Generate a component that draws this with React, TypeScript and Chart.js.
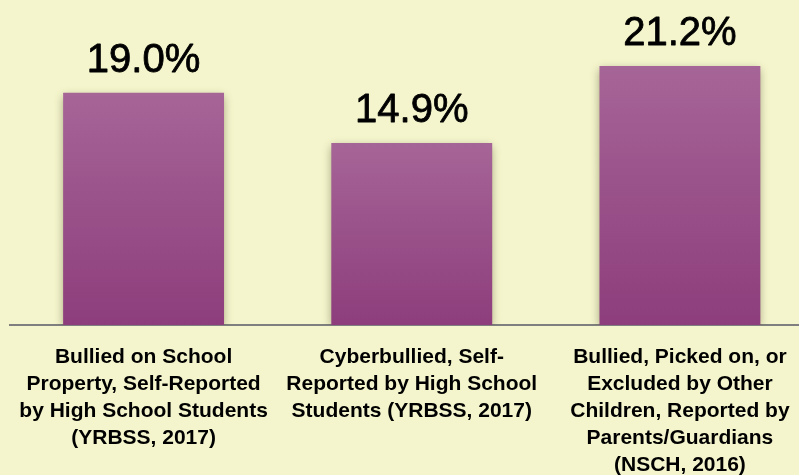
import React, { useEffect, useRef } from "react";
import { Chart, registerables } from "chart.js";

Chart.register(...registerables);

const categories: string[][] = [
  ["Bullied on School", "Property, Self-Reported", "by High School Students", "(YRBSS, 2017)"],
  ["Cyberbullied, Self-", "Reported by High School", "Students (YRBSS, 2017)"],
  ["Bullied, Picked on, or", "Excluded by Other", "Children, Reported by", "Parents/Guardians", "(NSCH, 2016)"],
];
const values: number[] = [19.0, 14.9, 21.2];
const valueLabels: string[] = ["19.0%", "14.9%", "21.2%"];

const BG = "#f4f5cc";

export default function App() {
  const ref = useRef<HTMLCanvasElement | null>(null);

  useEffect(() => {
    document.body.style.margin = "0";
    document.body.style.overflow = "hidden";
    const canvas = ref.current!;
    const shadowPlugin = {
      id: "barShadow",
      beforeDatasetsDraw(chart: any) {
        const ctx = chart.ctx;
        ctx.save();
        ctx.shadowColor = "rgba(60,60,20,0.45)";
        ctx.shadowBlur = 9;
        ctx.shadowOffsetX = 0;
        ctx.shadowOffsetY = 3;
      },
      afterDatasetsDraw(chart: any) {
        const ctx = chart.ctx;
        ctx.restore();
        const meta = chart.getDatasetMeta(0);
        ctx.save();
        ctx.fillStyle = "#000";
        ctx.strokeStyle = "#000";
        ctx.lineWidth = 0.8;
        ctx.lineJoin = "round";
        ctx.font = "40px 'Liberation Sans', Arial, sans-serif";
        ctx.textAlign = "center";
        ctx.textBaseline = "alphabetic";
        meta.data.forEach((bar: any, i: number) => {
          ctx.fillText(valueLabels[i], bar.x, bar.y - 20.5);
          ctx.strokeText(valueLabels[i], bar.x, bar.y - 20.5);
        });
        ctx.restore();
      },
    };
    const chart = new Chart(canvas, {
      type: "bar",
      data: {
        labels: categories,
        datasets: [
          {
            data: values,
            backgroundColor: (c: any) => {
              const chartRef = c.chart;
              const area = chartRef.chartArea;
              if (!area || c.dataIndex === undefined) return "#9a5089";
              const y = chartRef.scales.y;
              const top = y.getPixelForValue(values[c.dataIndex]);
              const bottom = y.getPixelForValue(0);
              const g = chartRef.ctx.createLinearGradient(0, top, 0, bottom);
              g.addColorStop(0, "#a66597");
              g.addColorStop(1, "#8d3d7c");
              return g;
            },
            borderWidth: 0,
            barPercentage: 0.6,
            categoryPercentage: 1,
          },
        ],
      },
      options: {
        responsive: false,
        animation: false,
        devicePixelRatio: 1,
        layout: { padding: { left: 9.5, right: 10, top: 0, bottom: 0 } },
        plugins: { legend: { display: false }, tooltip: { enabled: false } },
        scales: {
          x: {
            grid: { display: false },
            border: { display: true, color: "#7f7f7f", width: 2 },
            ticks: {
              color: "#000",
              padding: 11,
              maxRotation: 0,
              autoSkip: false,
              font: { family: "'Liberation Sans', Arial, sans-serif", size: 21, weight: "bold", lineHeight: 27 / 21 },
            },
            afterFit: (scale: any) => {
              scale.height = 150;
            },
          },
          y: {
            display: false,
            min: 0,
            max: 26.6,
          },
        },
      },
      plugins: [shadowPlugin],
    } as any);
    return () => chart.destroy();
  }, []);

  return (
    <div style={{ position: "fixed", left: 0, top: 0, width: 799, height: 475, overflow: "hidden", background: BG }}>
      <canvas ref={ref} width={824} height={475} style={{ display: "block", width: 824, height: 475 }} />
    </div>
  );
}
